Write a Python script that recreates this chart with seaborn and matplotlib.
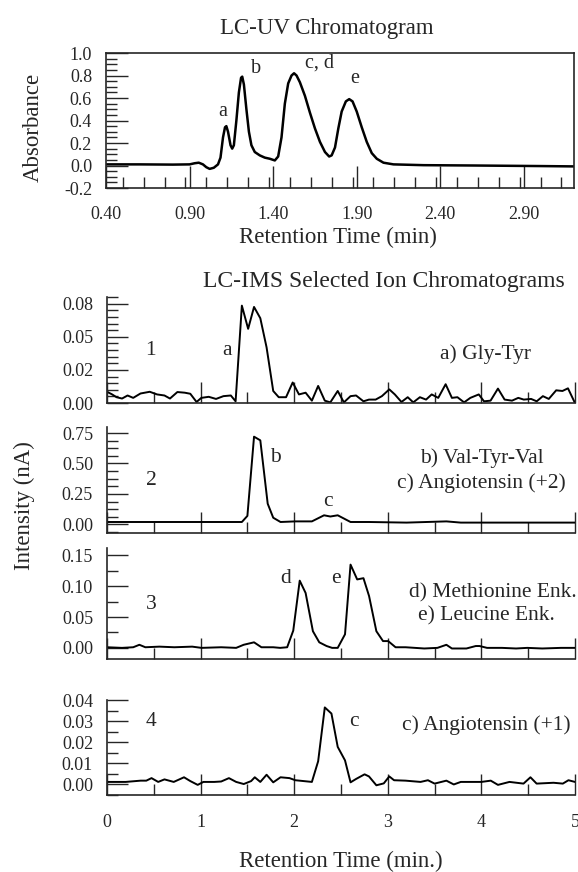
import numpy as np
import pandas as pd
import seaborn as sns
import matplotlib.pyplot as plt
from matplotlib.ticker import MultipleLocator, FixedLocator

# LC-UV chromatogram (retention time in min, absorbance)
uv_time = [0.40, 0.60, 0.80, 0.90, 0.93, 0.955, 0.98, 1.00, 1.02, 1.045, 1.07, 1.085,
           1.10, 1.112, 1.12, 1.13, 1.145, 1.155, 1.165, 1.18, 1.195, 1.208, 1.215,
           1.225, 1.24, 1.255, 1.27, 1.29, 1.32, 1.35, 1.38, 1.41, 1.43, 1.45, 1.47,
           1.49, 1.51, 1.525, 1.54, 1.56, 1.59, 1.62, 1.65, 1.68, 1.71, 1.735, 1.75,
           1.77, 1.79, 1.81, 1.835, 1.855, 1.875, 1.90, 1.93, 1.96, 1.99, 2.02, 2.06,
           2.12, 2.30, 2.60, 3.00, 3.20]
uv_abs = [0.01, 0.01, 0.008, 0.01, 0.02, 0.025, 0.01, -0.015, -0.03, -0.02, 0.01, 0.07,
          0.25, 0.34, 0.35, 0.30, 0.18, 0.15, 0.18, 0.40, 0.65, 0.78, 0.79,
          0.72, 0.50, 0.30, 0.18, 0.12, 0.09, 0.07, 0.06, 0.045, 0.08, 0.25, 0.55,
          0.73, 0.80, 0.82, 0.80, 0.74, 0.62, 0.47, 0.33, 0.21, 0.12, 0.08, 0.09,
          0.16, 0.33, 0.48, 0.57, 0.59, 0.57, 0.48, 0.34, 0.21, 0.11, 0.06, 0.025,
          0.01, 0.003, 0.0, -0.005, -0.008]
uv_labels = ["a", "b", "c, d", "e"]
uv_label_x = [1.10, 1.30, 1.68, 1.89]
uv_label_y = [0.48, 0.86, 0.91, 0.77]

# selected ion chromatograms
t1 = [0.0, 0.055, 0.102, 0.161, 0.220, 0.280, 0.358, 0.457, 0.535, 0.614, 0.673, 0.752,
      0.831, 0.890, 0.957, 1.008, 1.087, 1.165, 1.244, 1.323, 1.374, 1.441, 1.508, 1.571,
      1.638, 1.705, 1.776, 1.835, 1.913, 1.984, 2.051, 2.122, 2.189, 2.256, 2.327, 2.386,
      2.465, 2.531, 2.602, 2.661, 2.740, 2.799, 2.870, 2.937, 3.016, 3.075, 3.146, 3.213,
      3.272, 3.343, 3.409, 3.469, 3.539, 3.618, 3.685, 3.744, 3.815, 3.882, 3.972, 4.028,
      4.098, 4.177, 4.248, 4.327, 4.394, 4.453, 4.531, 4.591, 4.657, 4.720, 4.799, 4.866,
      4.925, 5.0]
i1 = [0.0085, 0.0065, 0.0044, 0.0034, 0.0057, 0.0039, 0.0072, 0.0085, 0.0065, 0.0057, 0.0034, 0.0083,
      0.0078, 0.0070, 0.0008, 0.0039, 0.0047, 0.0031, 0.0052, 0.0057, 0.0013, 0.0735, 0.0560, 0.0725,
      0.0640, 0.0420, 0.0091, 0.0044, 0.0044, 0.0155, 0.0065, 0.0078, 0.0018, 0.0129, 0.0018, 0.0005,
      0.0091, 0.0005, 0.0052, 0.0057, 0.0013, 0.0026, 0.0026, 0.0052, 0.0103, 0.0065, 0.0008, 0.0044,
      0.0005, 0.0044, 0.0026, 0.0065, 0.0039, 0.0142, 0.0039, 0.0044, 0.0005, 0.0039, 0.0065, 0.0013,
      0.0018, 0.0109, 0.0026, 0.0018, 0.0039, 0.0026, 0.0031, 0.0013, 0.0052, 0.0031, 0.0096, 0.0091,
      0.0111, 0.0]

t2 = [0.0, 0.44, 1.03, 1.441, 1.50, 1.571, 1.638, 1.717, 1.776, 1.854, 2.012, 2.189,
      2.319, 2.386, 2.465, 2.602, 2.80, 3.20, 3.626, 3.78, 4.37, 5.0]
i2 = [0.02, 0.02, 0.02, 0.02, 0.07, 0.72, 0.69, 0.17, 0.055, 0.02, 0.025, 0.025,
      0.075, 0.065, 0.075, 0.02, 0.02, 0.015, 0.025, 0.015, 0.015, 0.015]

t3 = [0.0, 0.16, 0.28, 0.346, 0.41, 0.56, 0.72, 0.91, 1.01, 1.22, 1.38, 1.46, 1.571,
      1.65, 1.776, 1.85, 1.925, 1.99, 2.059, 2.122, 2.20, 2.268, 2.346, 2.405, 2.465,
      2.543, 2.602, 2.673, 2.74, 2.80, 2.878, 2.949, 3.004, 3.083, 3.19, 3.39, 3.53,
      3.626, 3.685, 3.84, 3.94, 3.98, 4.06, 4.22, 4.37, 4.49, 4.65, 4.85, 5.0]
i3 = [0.001, 0.0, 0.001, 0.005, 0.001, 0.002, 0.001, 0.002, 0.0, 0.001, 0.0, 0.005, 0.009,
      0.001, 0.001, 0.0, 0.001, 0.028, 0.109, 0.089, 0.027, 0.009, 0.003, 0.0, 0.0,
      0.022, 0.135, 0.111, 0.113, 0.084, 0.027, 0.011, 0.011, 0.001, 0.001, -0.001, 0.0,
      0.005, -0.001, -0.001, 0.003, 0.003, 0.0, 0.0, -0.001, 0.0, -0.001, 0.0, 0.0]

t4 = [0.0, 0.20, 0.36, 0.42, 0.476, 0.547, 0.614, 0.713, 0.823, 0.89, 0.969, 1.03,
      1.146, 1.22, 1.303, 1.38, 1.461, 1.54, 1.579, 1.638, 1.705, 1.776, 1.854, 1.95,
      2.012, 2.189, 2.256, 2.327, 2.398, 2.465, 2.543, 2.602, 2.661, 2.752, 2.799, 2.878,
      2.957, 3.016, 3.067, 3.19, 3.35, 3.429, 3.50, 3.626, 3.705, 3.78, 4.0, 4.10,
      4.177, 4.30, 4.45, 4.524, 4.59, 4.77, 4.87, 4.93, 5.0]
i4 = [0.0012, 0.0012, 0.0018, 0.0018, 0.0030, 0.0012, 0.0024, 0.0012, 0.0034, 0.0016, -0.0002, 0.0012,
      0.0012, 0.0014, 0.0030, 0.0012, 0.0002, 0.0016, 0.0034, 0.0012, 0.0046, 0.0010, 0.0034, 0.0030,
      0.0020, 0.0012, 0.0110, 0.0365, 0.0336, 0.0178, 0.0114, 0.0010, 0.0026, 0.0048, 0.0038, -0.0004,
      0.0005, 0.0038, 0.0020, 0.0018, 0.0012, 0.0020, 0.0004, 0.0018, 0.0000, 0.0012, 0.0012, 0.0018,
      -0.0002, 0.0012, 0.0004, 0.0034, 0.0004, 0.0008, 0.0004, 0.0020, 0.0012]

panel_ids = ["1", "2", "3", "4"]
peak_labels = [["a"], ["b", "c"], ["d", "e"], ["c"]]
peak_label_x = [[1.28], [1.80, 2.36], [1.91, 2.45], [2.64]]
peak_label_y = [[0.040], [0.55, 0.19], [0.113, 0.113], [0.030]]
compound_text = [["a) Gly-Tyr"], ["b) Val-Tyr-Val", "c) Angiotensin (+2)"],
                 ["d) Methionine Enk.", "e) Leucine Enk."], ["c) Angiotensin (+1)"]]
compound_x = [[4.04], [4.0, 4.0], [4.12, 4.05], [4.05]]
compound_y = [[0.037], [0.54, 0.34], [0.089, 0.052], [0.028]]
panel_id_y = [0.040, 0.36, 0.070, 0.030]

y_ticks = [[0.0, 0.025, 0.05, 0.075], [0.0, 0.25, 0.5, 0.75],
           [0.0, 0.05, 0.10, 0.15], [0.0, 0.01, 0.02, 0.03, 0.04]]
y_tick_labels = [["0.00", "0.02", "0.05", "0.08"], ["0.00", "0.25", "0.50", "0.75"],
                 ["0.00", "0.05", "0.10", "0.15"], ["0.00", "0.01", "0.02", "0.03", "0.04"]]
y_minor = [0.005, 0.0625, 0.025, 0.005]
y_limits = [(0.0, 0.08), (-0.07, 0.80), (-0.018, 0.162), (-0.005, 0.040)]

sns.set_theme(style="ticks")
plt.rcParams['font.family'] = ['Liberation Serif', 'DejaVu Serif']
plt.rcParams['axes.linewidth'] = 1.2

fig = plt.figure(figsize=(5.78, 8.72), dpi=100)

# ---- top LC-UV panel
ax = fig.add_axes([0.1834, 0.7844, 0.8097, 0.1548])
uv = pd.DataFrame({"t": uv_time, "a": uv_abs})
sns.lineplot(data=uv, x="t", y="a", ax=ax, color="black", linewidth=1.8)
ax.set_xlim(0.40, 3.20)
ax.set_ylim(-0.2, 1.0)
ax.set_xticks([0.40, 0.90, 1.40, 1.90, 2.40, 2.90])
ax.set_xticklabels(["0.40", "0.90", "1.40", "1.90", "2.40", "2.90"])
ax.xaxis.set_minor_locator(MultipleLocator(0.125))
ax.set_yticks([-0.2, 0.0, 0.2, 0.4, 0.6, 0.8, 1.0])
ax.set_yticklabels(["-0.2", "0.0", "0.2", "0.4", "0.6", "0.8", "1.0"])
ax.yaxis.set_minor_locator(MultipleLocator(0.05))
ax.tick_params(which="major", direction="in", length=16, width=1.0, labelsize=13)
ax.tick_params(axis="x", pad=13)
ax.tick_params(axis="y", pad=10)
ax.tick_params(which="minor", direction="in", length=8, width=1.0)
ax.set_xlabel("")
ax.set_ylabel("")
for lab, lx, ly in zip(uv_labels, uv_label_x, uv_label_y):
    ax.text(lx, ly, lab, fontsize=14.5, ha="center", va="center")
fig.text(0.565, 0.967, "LC-UV Chromatogram", fontsize=16.5, ha="center", va="center")
fig.text(0.585, 0.728, "Retention Time (min)", fontsize=16.5, ha="center", va="center")
fig.text(0.057, 0.854, "Absorbance", fontsize=16.5, ha="center", va="center", rotation=90)

# ---- selected ion chromatograms
rects = [[0.1851, 0.5378, 0.8097, 0.1216],
         [0.1851, 0.3888, 0.8097, 0.1216],
         [0.1851, 0.2443, 0.8097, 0.1273],
         [0.1851, 0.0883, 0.8097, 0.1089]]
traces = [(t1, i1), (t2, i2), (t3, i3), (t4, i4)]

for k in range(4):
    ax = fig.add_axes(rects[k])
    df = pd.DataFrame({"t": traces[k][0], "i": traces[k][1]})
    sns.lineplot(data=df, x="t", y="i", ax=ax, color="black", linewidth=1.4)
    ax.set_xlim(0, 5)
    ax.set_ylim(*y_limits[k])
    ax.xaxis.set_major_locator(MultipleLocator(1))
    ax.xaxis.set_minor_locator(MultipleLocator(0.5))
    ax.yaxis.set_major_locator(FixedLocator(y_ticks[k]))
    ax.set_yticklabels(y_tick_labels[k])
    ax.yaxis.set_minor_locator(MultipleLocator(y_minor[k]))
    ax.tick_params(which="major", direction="in", length=15, width=1.0, labelsize=13)
    ax.tick_params(axis="y", pad=10)
    ax.tick_params(which="minor", direction="in", length=8, width=1.0)
    ax.spines["top"].set_visible(False)
    ax.spines["right"].set_visible(False)
    ax.set_xlabel("")
    ax.set_ylabel("")
    if k < 3:
        ax.tick_params(axis="x", labelbottom=False)
    else:
        ax.tick_params(axis="x", pad=14)
    ax.text(0.47, panel_id_y[k], panel_ids[k], fontsize=15.5, ha="center", va="center")
    for lab, lx, ly in zip(peak_labels[k], peak_label_x[k], peak_label_y[k]):
        ax.text(lx, ly, lab, fontsize=15.5, ha="center", va="center")
    for lab, lx, ly in zip(compound_text[k], compound_x[k], compound_y[k]):
        ax.text(lx, ly, lab, fontsize=15.5, ha="center", va="center")

fig.text(0.664, 0.677, "LC-IMS Selected Ion Chromatograms", fontsize=17, ha="center", va="center")
fig.text(0.042, 0.42, "Intensity (nA)", fontsize=16.5, ha="center", va="center", rotation=90)
fig.text(0.59, 0.012, "Retention Time (min.)", fontsize=16.5, ha="center", va="center")

fig.savefig("out.png", dpi=100)
